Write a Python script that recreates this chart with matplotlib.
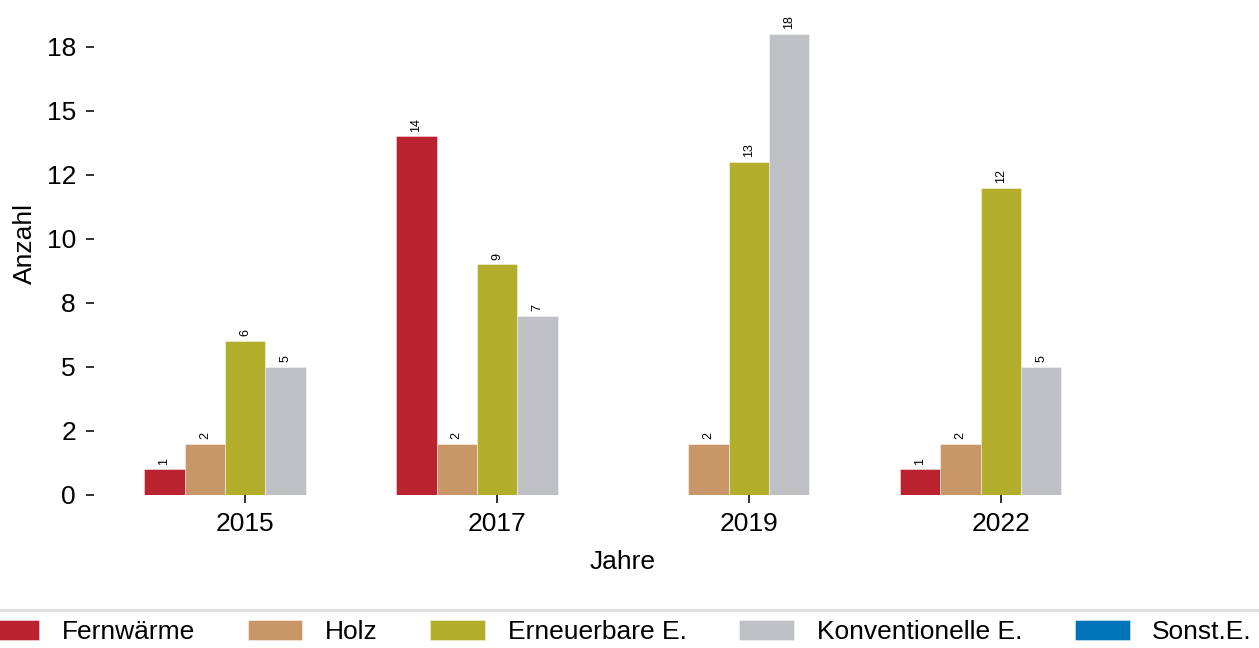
import matplotlib
matplotlib.use("Agg")
import matplotlib.pyplot as plt
import numpy as np
from matplotlib.lines import Line2D

plt.rcParams['font.family'] = ['Liberation Sans', 'DejaVu Sans']

# Daten
jahre = ['2015', '2017', '2019', '2022']
fernwaerme = [1, 14, 0, 1]
holz = [2, 2, 2, 2]
erneuerbare = [6, 9, 13, 12]
konventionelle = [5, 7, 18, 5]
sonstige = [0, 0, 0, 0]

serien = ['Fernwärme', 'Holz', 'Erneuerbare E.', 'Konventionelle E.', 'Sonst.E.']
werte = [fernwaerme, holz, erneuerbare, konventionelle, sonstige]
farben = ['#bb2230', '#c99668', '#b2ad2a', '#bfc0c4', '#0074b8']

fig = plt.figure(figsize=(12.59, 6.48), dpi=100)
ax = fig.add_axes([94 / 1259, 153 / 648, (1152 - 94) / 1259, (495 + 7) / 648])

x = np.arange(len(jahre))
n = len(serien)
breite = 0.8 / n

for i, (name, vals, col) in enumerate(zip(serien, werte, farben)):
    pos = x - 0.4 + breite * (i + 0.5)
    bars = ax.bar(pos, vals, width=breite, color=col, label=name,
                  edgecolor=(1, 1, 1, 0.5), linewidth=0.6)
    labels = [str(v) if v > 0 else '' for v in vals]
    ax.bar_label(bars, labels=labels, rotation=90, padding=3.5, fontsize=9)

# Achsen
ax.set_xlim(-0.6, 3.6)
ax.set_ylim(0, 19.6)
ax.set_yticks(np.arange(0, 19, 2.5))
ax.set_yticklabels([f'{v:.0f}' for v in np.arange(0, 19, 2.5)])
ax.set_xticks(x)
ax.set_xticklabels(jahre)
ax.tick_params(axis='both', labelsize=19, length=6, width=1.3, color='#222222')
ax.tick_params(axis='y', pad=7)
ax.tick_params(axis='x', pad=6)
for s in ax.spines.values():
    s.set_visible(False)

ax.set_xlabel('Jahre', fontsize=19, labelpad=10)
ax.set_ylabel('Anzahl', fontsize=19, labelpad=7)

# Legende unten mit Trennlinie
fig.add_artist(Line2D([0, 1], [38 / 648, 38 / 648], transform=fig.transFigure,
                      color='#dddddd', linewidth=2))
fig.legend(loc='center', bbox_to_anchor=(618 / 1259, 16 / 648), ncol=5,
           frameon=False, fontsize=19, handlelength=2.08, handleheight=0.8,
           handletextpad=0.85, columnspacing=2.0)

plt.savefig('out.png', dpi=100)
plt.close()
